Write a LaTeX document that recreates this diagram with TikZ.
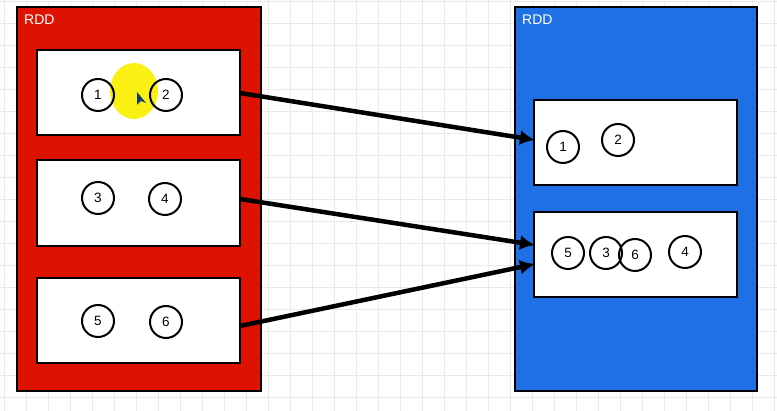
\documentclass[tikz,border=0pt]{standalone}
\usepackage{fontspec}
\setmainfont{Liberation Sans}
\usetikzlibrary{arrows.meta}
\definecolor{rddred}{RGB}{222,18,0}
\definecolor{rddblue}{RGB}{31,112,228}
\definecolor{gridc}{RGB}{234,234,234}
\definecolor{hilite}{RGB}{250,240,20}
\begin{document}
\begin{tikzpicture}[x=1pt,y=-1pt,
  outerbox/.style={draw=black,line width=2.5pt},
  partbox/.style={draw=black,fill=white,line width=2.5pt},
  num/.style={circle,draw=black,line width=2pt,minimum size=32pt,inner sep=0pt,font=\fontsize{13.5}{13.5}\selectfont},
  title/.style={anchor=base west,text=white,inner sep=0pt,font=\fontsize{14}{14}\selectfont},
  conn/.style={line width=4.5pt,-{Latex[length=15pt,width=15pt]}}]
\useasboundingbox (0,0) rectangle (777,411);
\fill[white] (0,0) rectangle (777,411);
\foreach \gx in {4,26,...,777} \draw[gridc,line width=1pt] (\gx,0) -- (\gx,411);
\foreach \gy in {2,24,...,411} \draw[gridc,line width=1pt] (0,\gy) -- (777,\gy);
% left RDD
\draw[outerbox,fill=rddred] (17,7) rectangle (261,391);
\node[title] (t1) at (24,25) {RDD};
\draw[partbox] (37,50) rectangle (240,135);
\draw[partbox] (37,160) rectangle (240,246);
\draw[partbox] (37,278) rectangle (240,363);
\coordinate (a1) at (240,93);
\coordinate (a2) at (240,199);
\coordinate (a3) at (240,326);
\fill[hilite] (134,91) ellipse (24pt and 28pt);
\node[num] (l1) at (98,95) {1};
\node[num] (l2) at (166,95) {2};
\fill[rddblue!50!black] (137,92) -- (137,105) -- (141,101) -- (146,103) -- cycle;
\node[num] (l3) at (98,198) {3};
\node[num] (l4) at (165,199) {4};
\node[num] (l5) at (98,321) {5};
\node[num] (l6) at (166,322) {6};
% right RDD
\draw[outerbox,fill=rddblue] (515,7) rectangle (757,391);
\node[title] (t2) at (522,25) {RDD};
\draw[partbox] (534,100) rectangle (737,185);
\draw[partbox] (534,212) rectangle (737,297);
\coordinate (b1) at (535,140);
\coordinate (b2) at (535,245);
\coordinate (b3) at (535,264);
\node[num] (r1) at (563,147) {1};
\node[num] (r2) at (618,140) {2};
\node[num] (r5) at (568,253) {5};
\node[num] (r3) at (606,253) {3};
\node[num] (r6) at (635,255) {6};
\node[num] (r4) at (685,252) {4};
% connectors
\draw[conn] (a1) -- (b1);
\draw[conn] (a2) -- (b2);
\draw[conn] (a3) -- (b3);
\end{tikzpicture}
\end{document}
